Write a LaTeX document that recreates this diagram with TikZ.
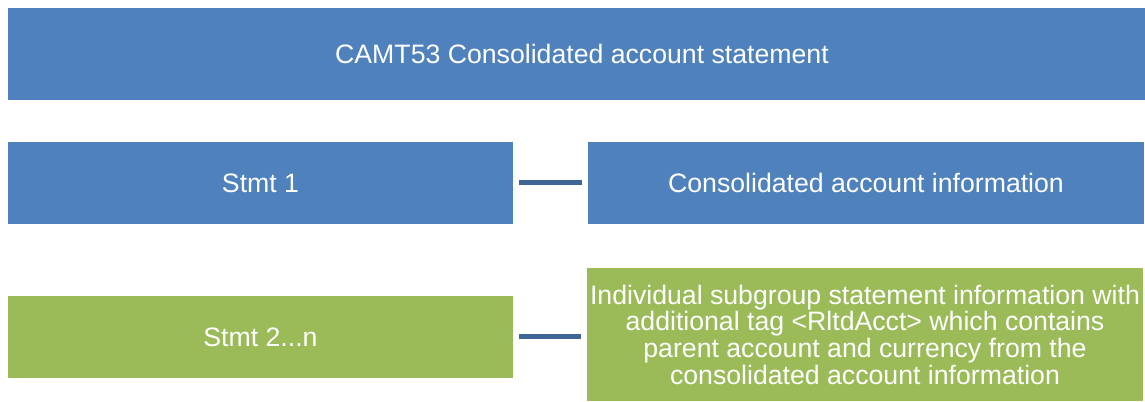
\documentclass[tikz,border=0pt]{standalone}
\usepackage{fontspec}
\setmainfont{Liberation Sans}
\definecolor{boxblue}{HTML}{4F81BD}
\definecolor{boxgreen}{HTML}{9BBB59}
\definecolor{linkblue}{HTML}{3F6597}
\begin{document}
\begin{tikzpicture}[x=0.75pt,y=-0.75pt,
  box/.style={rectangle, draw=none, text=white, align=center, inner sep=0pt,
    font=\fontsize{20pt}{20pt}\selectfont},
  bluebox/.style={box, fill=boxblue},
  greenbox/.style={box, fill=boxgreen},
  link/.style={draw=linkblue, line width=3.75pt, shorten >=4.5pt, shorten <=4.5pt}]
\useasboundingbox (0,0) rectangle (1145,402);
\node[bluebox, minimum width=1148*0.75pt, minimum height=92*0.75pt] (top) at (582,54) {CAMT53 Consolidated account statement};
\node[bluebox, minimum width=505*0.75pt, minimum height=82*0.75pt] (s1) at (260.5,183) {Stmt 1};
\node[bluebox, minimum width=556*0.75pt, minimum height=82*0.75pt] (cons) at (866,183) {Consolidated account information};
\node[greenbox, minimum width=505*0.75pt, minimum height=82*0.75pt] (s2) at (260.5,337) {Stmt 2...n};
\node[greenbox, minimum width=556*0.75pt, minimum height=133*0.75pt] (ind) at (865,334.5) {Individual subgroup statement information with\\additional tag <RltdAcct> which contains\\parent account and currency from the\\consolidated account information};
\draw[link] (s1.east) -- (cons.west);
\draw[link] (s2.east) -- (s2.east -| ind.west);
\end{tikzpicture}
\end{document}
